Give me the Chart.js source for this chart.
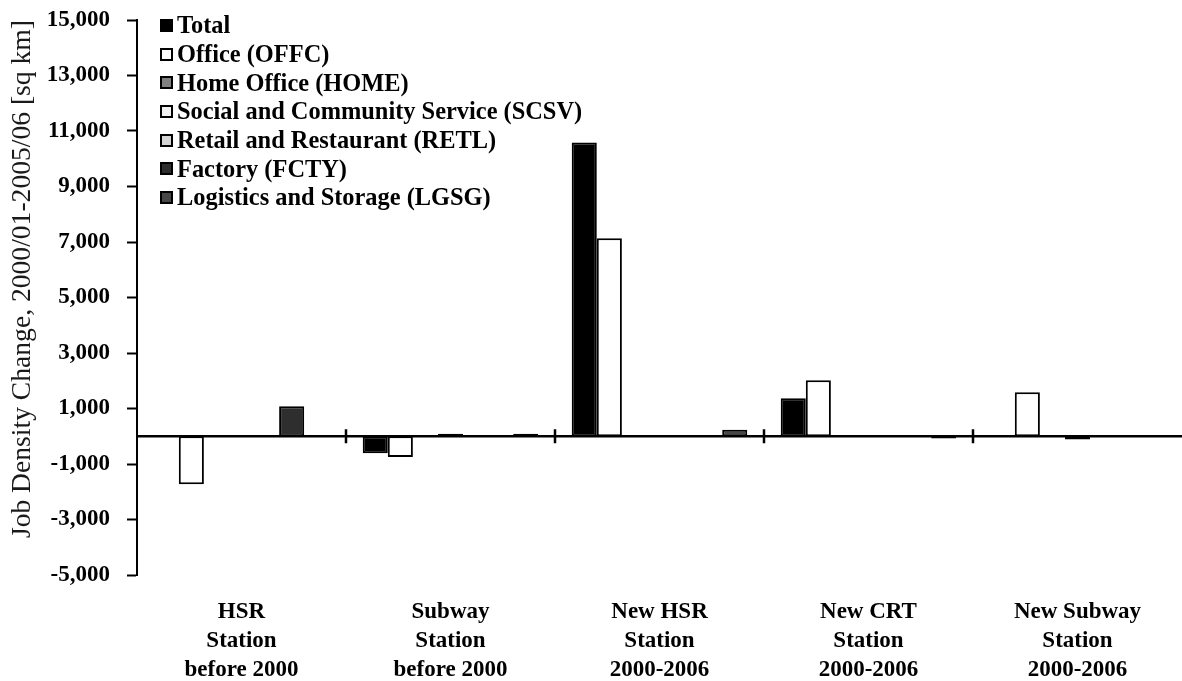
<!DOCTYPE html>
<html>
<head>
<meta charset="utf-8">
<script src="https://cdn.jsdelivr.net/npm/chart.js@4.4.0/dist/chart.umd.min.js"></script>
<style>
  html, body { margin: 0; padding: 0; background: #fff; }
  #wrap { position: relative; width: 1182px; height: 681px; }
  #legend { position: absolute; left: 160px; top: 11px; font: bold 24.4px "Liberation Serif", "Times New Roman", serif; color: #000; }
  #legend .row { height: 28.7px; display: flex; align-items: center; white-space: nowrap; }
  #legend .box { width: 13px; height: 13px; border: 2px solid #000; box-sizing: border-box; margin-right: 4px; }
</style>
</head>
<body>
<div id="wrap">
  <canvas id="myChart" width="1182" height="681"></canvas>
  <div id="legend"></div>
</div>
<script>
'use strict';
// categories along the x axis
let categories = [
  ['HSR', 'Station', 'before 2000'],
  ['Subway', 'Station', 'before 2000'],
  ['New HSR', 'Station', '2000-2006'],
  ['New CRT', 'Station', '2000-2006'],
  ['New Subway', 'Station', '2000-2006']
];
let seriesNames = ['Total', 'Office (OFFC)', 'Home Office (HOME)', 'Social and Community Service (SCSV)', 'Retail and Restaurant (RETL)', 'Factory (FCTY)', 'Logistics and Storage (LGSG)'];
let seriesColors = ['#000000', '#ffffff', '#808080', '#f2f2f2', '#d4d4d4', '#2e2e2e', '#474747'];

// values (sq km)
let total = [0, -610, 10590, 1370, 0];
let offc = [-1730, -750, 7135, 2020, 1590];
let home = [0, 0, 0, 0, 0];
let scsv = [0, 90, 0, 0, -120];
let retl = [0, 0, 0, 0, 0];
let fcty = [1080, 0, 0, 0, 0];
let lgsg = [0, 90, 230, -80, 0];

let yMin = -5000;
let yMax = 15000;
let yStep = 2000;

let allSeries = [total, offc, home, scsv, retl, fcty, lgsg];

let datasets = [];
for (let i = 0; i < allSeries.length; i++) {
  datasets.push({
    label: seriesNames[i],
    data: allSeries[i],
    backgroundColor: seriesColors[i],
    borderColor: '#000',
    borderWidth: 2,
    borderSkipped: false,
    categoryPercentage: 0.84,
    barPercentage: 1
  });
}

// zero line with the little ticks between station groups
let zeroLine = {
  id: 'zeroLine',
  afterDatasetsDraw(chart) {
    let ctx = chart.ctx;
    let x = chart.scales.x;
    let y = chart.scales.y;
    let y0 = y.getPixelForValue(0);
    ctx.save();
    ctx.strokeStyle = '#000';
    ctx.lineWidth = 2.5;
    ctx.beginPath();
    ctx.moveTo(chart.chartArea.left, y0);
    ctx.lineTo(chart.chartArea.right, y0);
    for (let i = 0; i < categories.length - 1; i++) {
      let xp = Math.round((x.getPixelForValue(i) + x.getPixelForValue(i + 1)) / 2);
      ctx.moveTo(xp, y0 - 7);
      ctx.lineTo(xp, y0 + 7);
    }
    ctx.stroke();
    ctx.restore();
  }
};

let serif = '"Liberation Serif", "Times New Roman", serif';

let myChart = new Chart(document.getElementById('myChart'), {
  type: 'bar',
  data: { labels: categories, datasets: datasets },
  options: {
    responsive: false,
    animation: false,
    devicePixelRatio: 1,
    layout: { padding: { top: 20, right: 0, left: 0, bottom: 0 } },
    plugins: {
      legend: { display: false },
      tooltip: { enabled: false }
    },
    scales: {
      x: {
        grid: { display: false, drawTicks: false },
        border: { display: false },
        ticks: {
          color: '#000',
          padding: 23,
          maxRotation: 0,
          font: { family: serif, size: 23, weight: 'bold', lineHeight: 1.26 }
        },
        afterFit(scale) { scale.height = 106; }
      },
      y: {
        min: yMin,
        max: yMax,
        ticks: {
          stepSize: yStep,
          color: '#000',
          padding: 17,
          font: { family: serif, size: 23, weight: 'bold' },
          callback: (v) => v.toLocaleString('en-US')
        },
        grid: {
          drawOnChartArea: false,
          tickLength: 10,
          tickColor: '#000',
          tickWidth: 2
        },
        border: { display: true, color: '#000', width: 2 },
        title: {
          display: true,
          text: 'Job Density Change, 2000/01-2005/06 [sq km]',
          color: '#1a1a1a',
          align: 'end',
          font: { family: serif, size: 27.6 },
          padding: { top: 6, bottom: 0 }
        },
        afterFit(scale) {
          scale.width = 137;
          // keep the tick labels from pushing the plot area down
          scale.paddingTop = 0;
          scale.paddingBottom = 0;
        }
      }
    }
  },
  plugins: [zeroLine]
});

// legend at the top left of the plot
let legend = document.getElementById('legend');
for (let i = 0; i < seriesNames.length; i++) {
  let row = document.createElement('div');
  row.className = 'row';
  let box = document.createElement('span');
  box.className = 'box';
  box.style.background = seriesColors[i];
  row.append(box);
  row.append(document.createTextNode(seriesNames[i]));
  legend.append(row);
}
</script>
</body>
</html>
